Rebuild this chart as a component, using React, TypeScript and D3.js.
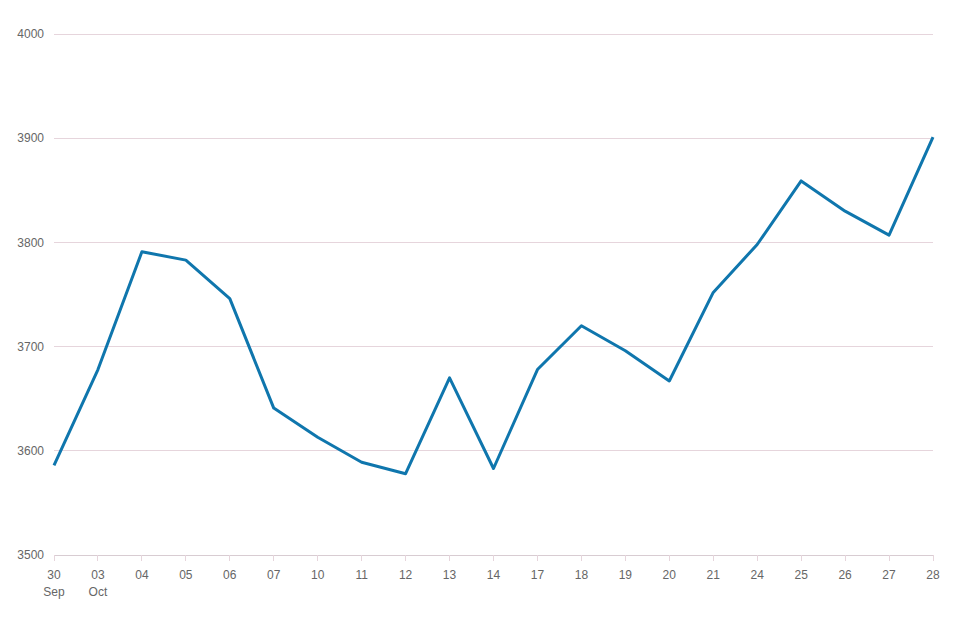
import React, { useEffect, useRef } from 'react';
import * as d3 from 'd3';

const dayLabels = ['30', '03', '04', '05', '06', '07', '10', '11', '12', '13', '14', '17', '18', '19', '20', '21', '24', '25', '26', '27', '28'];
const monthLabels = ['Sep', 'Oct', '', '', '', '', '', '', '', '', '', '', '', '', '', '', '', '', '', '', ''];
const prices = [3586, 3678, 3791, 3783, 3746, 3641, 3613, 3589, 3578, 3670, 3583, 3678, 3720, 3696, 3667, 3752, 3798, 3859, 3830, 3807, 3901];
const yTicks = [3500, 3600, 3700, 3800, 3900, 4000];

export default function App() {
  const svgRef = useRef<SVGSVGElement>(null);

  useEffect(() => {
    if (!svgRef.current) return;
    const svg = d3.select(svgRef.current);
    svg.selectAll('*').remove();

    const margin = { top: 34, right: 40, bottom: 68, left: 54 };
    const width = 973 - margin.left - margin.right;
    const height = 623 - margin.top - margin.bottom;

    const g = svg
      .append('g')
      .attr('transform', `translate(${margin.left},${margin.top})`);

    const x = d3
      .scalePoint<number>()
      .domain(d3.range(dayLabels.length))
      .range([0, width]);

    const y = d3.scaleLinear().domain([3500, 4000]).range([height, 0]);

    // Grid lines
    g.selectAll('.grid')
      .data(yTicks)
      .enter()
      .append('line')
      .attr('x1', 0)
      .attr('x2', width)
      .attr('y1', (d) => y(d))
      .attr('y2', (d) => y(d))
      .attr('stroke', (d) => (d === 3500 ? '#d8ccd2' : '#e6d5dc'))
      .attr('stroke-width', 1)
      .attr('shape-rendering', 'crispEdges');

    // Y labels
    g.selectAll('.ylabel')
      .data(yTicks)
      .enter()
      .append('text')
      .attr('x', -10)
      .attr('y', (d) => y(d))
      .attr('dy', '0.35em')
      .attr('text-anchor', 'end')
      .style('font-family', 'Liberation Sans, Arial, sans-serif')
      .style('font-size', '12px')
      .style('fill', '#666')
      .text((d) => d);

    // X ticks
    const xAxis = g.append('g').attr('transform', `translate(0,${height})`);
    xAxis
      .selectAll('line')
      .data(d3.range(dayLabels.length))
      .enter()
      .append('line')
      .attr('x1', (d) => x(d) || 0)
      .attr('x2', (d) => x(d) || 0)
      .attr('y1', 0)
      .attr('y2', 6)
      .attr('stroke', '#e6d5dc')
      .attr('shape-rendering', 'crispEdges');

    xAxis
      .selectAll('.day')
      .data(dayLabels)
      .enter()
      .append('text')
      .attr('x', (_, i) => x(i) || 0)
      .attr('y', 24)
      .attr('text-anchor', 'middle')
      .style('font-family', 'Liberation Sans, Arial, sans-serif')
      .style('font-size', '12px')
      .style('fill', '#666')
      .text((d) => d);

    xAxis
      .selectAll('.month')
      .data(monthLabels)
      .enter()
      .append('text')
      .attr('x', (_, i) => x(i) || 0)
      .attr('y', 41)
      .attr('text-anchor', 'middle')
      .style('font-family', 'Liberation Sans, Arial, sans-serif')
      .style('font-size', '12px')
      .style('fill', '#666')
      .text((d) => d);

    // Price line
    const line = d3
      .line<number>()
      .x((_, i) => x(i) || 0)
      .y((d) => y(d));

    g.append('path')
      .datum(prices)
      .attr('fill', 'none')
      .attr('stroke', '#0f76ad')
      .attr('stroke-width', 3)
      .attr('stroke-linejoin', 'round')
      .attr('d', line);
  }, []);

  return (
    <svg
      ref={svgRef}
      width={973}
      height={623}
      style={{ position: 'absolute', left: 0, top: 0, background: '#fff' }}
    ></svg>
  );
}
